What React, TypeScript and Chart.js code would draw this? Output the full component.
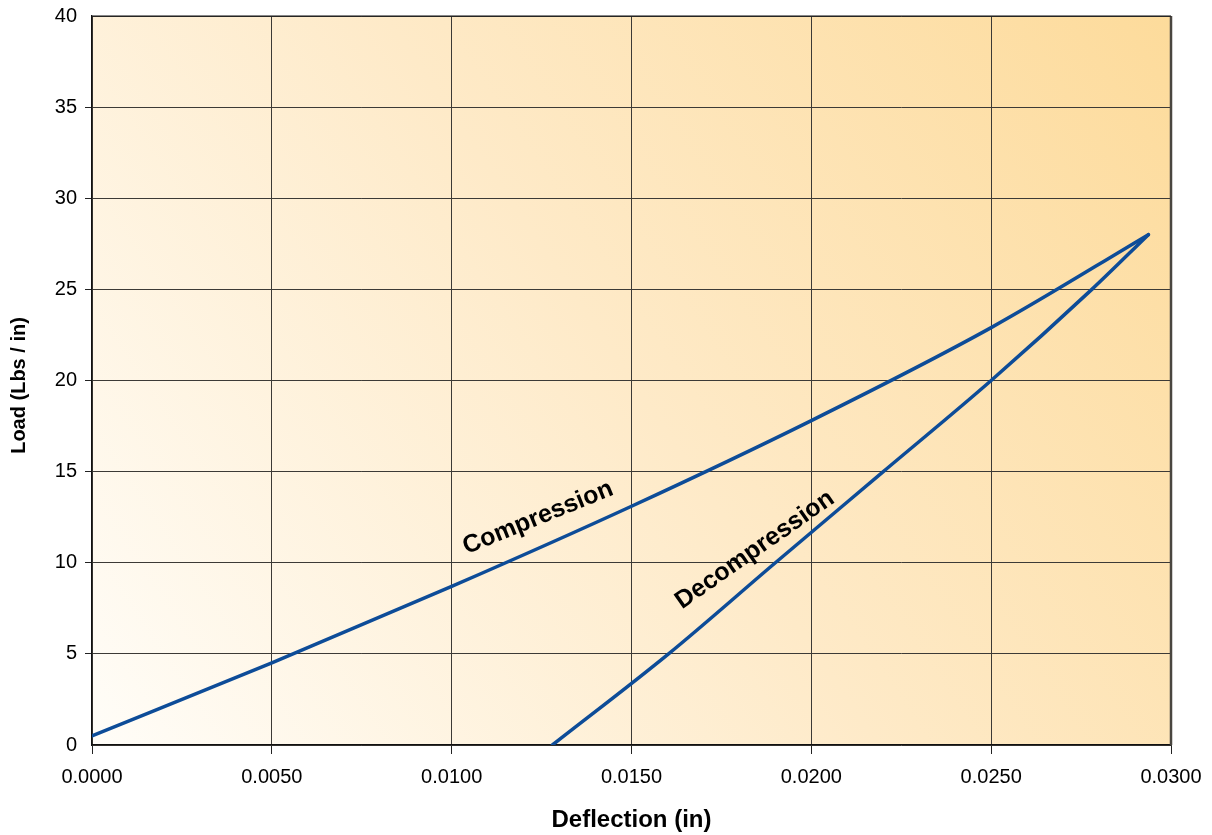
import React, { useEffect, useRef } from "react";
import { Chart, registerables } from "chart.js";

Chart.register(...registerables);

// ---- data ----
const compressionX = [0, 0.005, 0.01, 0.015, 0.02, 0.025, 0.02937];
const compressionY = [0.5, 4.5, 8.7, 13.1, 17.8, 22.9, 28];
const decompressionX = [0.0128, 0.01603, 0.019, 0.022, 0.025, 0.0278, 0.02937];
const decompressionY = [0, 5, 10, 15, 20, 25, 28];

const xTickValues = [0, 0.005, 0.01, 0.015, 0.02, 0.025, 0.03];
const yTickValues = [0, 5, 10, 15, 20, 25, 30, 35, 40];

const curveNames = ["Compression", "Decompression"];
const curveLabelX = [0.0124, 0.01843];
const curveLabelY = [12.46, 10.7];
const curveLabelAngle = [-22, -35];

const xTitle = "Deflection (in)";
const yTitle = "Load (Lbs / in)";

const FONT = '"Liberation Sans", Arial, Helvetica, sans-serif';
const LINE_COLOR = "#0d4c98";
const GRID_COLOR = "#3c3a36";

function toPoints(xs: number[], ys: number[]) {
  return xs.map((x, i) => ({ x, y: ys[i] }));
}

const backgroundPlugin = {
  id: "bgGradient",
  beforeDraw(chart: any) {
    const { ctx, chartArea } = chart;
    if (!chartArea) return;
    const { left, top, right, bottom } = chartArea;
    const g = ctx.createLinearGradient(left, bottom, right, top);
    g.addColorStop(0, "#fffdf8");
    g.addColorStop(0.5, "#feeac8");
    g.addColorStop(1, "#fddb9b");
    ctx.save();
    ctx.fillStyle = g;
    ctx.fillRect(left, top, right - left, bottom - top);
    ctx.restore();
  },
};

const decorPlugin = {
  id: "decor",
  afterDraw(chart: any) {
    const { ctx, chartArea, scales } = chart;
    const { left, top, right, bottom } = chartArea;
    ctx.save();
    // right border (thicker, greyish)
    ctx.strokeStyle = "#4a4640";
    ctx.lineWidth = 2.5;
    ctx.beginPath();
    ctx.moveTo(right, top);
    ctx.lineTo(right, bottom);
    ctx.stroke();
    // top border
    ctx.strokeStyle = "#111";
    ctx.lineWidth = 1.2;
    ctx.beginPath();
    ctx.moveTo(left, top);
    ctx.lineTo(right, top);
    ctx.stroke();

    // curve labels
    ctx.fillStyle = "#000";
    ctx.font = `bold 25px ${FONT}`;
    ctx.textAlign = "center";
    ctx.textBaseline = "middle";
    curveNames.forEach((name, i) => {
      const px = scales.x.getPixelForValue(curveLabelX[i]);
      const py = scales.y.getPixelForValue(curveLabelY[i]);
      ctx.save();
      ctx.translate(px, py);
      ctx.rotate((curveLabelAngle[i] * Math.PI) / 180);
      ctx.fillText(name, 0, 0);
      ctx.restore();
    });

    // axis titles
    ctx.font = `bold 24px ${FONT}`;
    ctx.fillText(xTitle, (left + right) / 2, 820);
    ctx.save();
    ctx.translate(19, (top + bottom) / 2 + 5);
    ctx.rotate(-Math.PI / 2);
    ctx.font = `bold 20px ${FONT}`;
    ctx.fillText(yTitle, 0, 0);
    ctx.restore();
    ctx.restore();
  },
};

export default function App() {
  const canvasRef = useRef<HTMLCanvasElement | null>(null);

  useEffect(() => {
    const canvas = canvasRef.current;
    if (!canvas) return;
    const chart = new Chart(canvas, {
      type: "scatter",
      data: {
        datasets: [
          {
            label: curveNames[0],
            data: toPoints(compressionX, compressionY),
            showLine: true,
            borderColor: LINE_COLOR,
            borderWidth: 3.5,
            pointRadius: 0,
            tension: 0.4,
            cubicInterpolationMode: "monotone",
            borderCapStyle: "round",
          },
          {
            label: curveNames[1],
            data: toPoints(decompressionX, decompressionY),
            showLine: true,
            borderColor: LINE_COLOR,
            borderWidth: 3.5,
            pointRadius: 0,
            tension: 0.4,
            cubicInterpolationMode: "monotone",
            borderCapStyle: "round",
          },
        ],
      },
      options: {
        animation: false,
        responsive: false,
        devicePixelRatio: 1,
        layout: { padding: { top: 16, right: 41, left: 0, bottom: 0 } },
        plugins: {
          legend: { display: false },
          tooltip: { enabled: false },
        },
        scales: {
          x: {
            type: "linear",
            min: 0,
            max: 0.03,
            afterBuildTicks: (scale: any) => {
              scale.ticks = xTickValues.map((v) => ({ value: v }));
            },
            afterFit: (scale: any) => {
              scale.height = 90;
              scale.paddingLeft = 0;
              scale.paddingRight = 0;
            },
            ticks: {
              color: "#000",
              font: { family: FONT, size: 20 },
              padding: 11,
              maxRotation: 0,
              callback: (v: any) => Number(v).toFixed(4),
            },
            grid: {
              color: GRID_COLOR,
              lineWidth: 1,
              tickLength: 9,
              tickColor: "#222",
            },
            border: { display: true, color: "#111", width: 1.2 },
          },
          y: {
            type: "linear",
            min: 0,
            max: 40,
            afterBuildTicks: (scale: any) => {
              scale.ticks = yTickValues.map((v) => ({ value: v }));
            },
            afterFit: (scale: any) => {
              scale.width = 92;
              scale.paddingTop = 0;
              scale.paddingBottom = 0;
            },
            ticks: {
              color: "#000",
              font: { family: FONT, size: 20 },
              padding: 8,
              callback: (v: any) => String(v),
            },
            grid: {
              color: GRID_COLOR,
              lineWidth: 1,
              tickLength: 7,
              tickColor: (c: any) =>
                c.tick && (c.tick.value === 0 || c.tick.value === 40) ? "rgba(0,0,0,0)" : "#222",
            },
            border: { display: true, color: "#111", width: 1.2 },
          },
        },
      },
      plugins: [backgroundPlugin, decorPlugin],
    });
    return () => chart.destroy();
  }, []);

  return (
    <div style={{ position: "absolute", left: 0, top: 0, width: 1212, height: 835, background: "#fff" }}>
      <canvas ref={canvasRef} width={1212} height={835} style={{ display: "block" }} />
    </div>
  );
}
